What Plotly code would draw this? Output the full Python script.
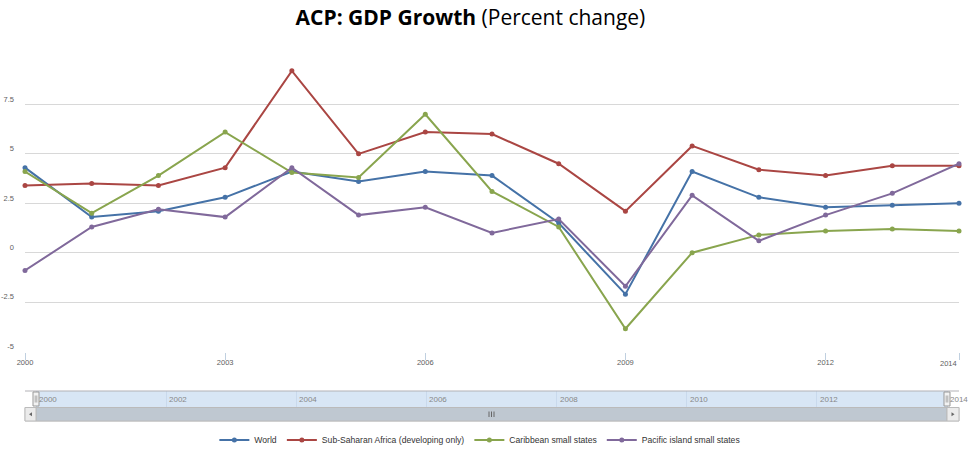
import plotly.graph_objects as go

# ---------------- data ----------------
years = list(range(2000, 2015))
world = [4.3, 1.8, 2.1, 2.8, 4.1, 3.6, 4.1, 3.9, 1.5, -2.1, 4.1, 2.8, 2.3, 2.4, 2.5]
ssa = [3.4, 3.5, 3.4, 4.3, 9.2, 5.0, 6.1, 6.0, 4.5, 2.1, 5.4, 4.2, 3.9, 4.4, 4.4]
caribbean = [4.1, 2.0, 3.9, 6.1, 4.05, 3.8, 7.0, 3.1, 1.3, -3.85, 0.0, 0.9, 1.1, 1.2, 1.1]
pacific = [-0.9, 1.3, 2.2, 1.8, 4.3, 1.9, 2.3, 1.0, 1.7, -1.7, 2.9, 0.6, 1.9, 3.0, 4.5]

series_names = ["World", "Sub-Saharan Africa (developing only)",
                "Caribbean small states", "Pacific island small states"]
series_values = [world, ssa, caribbean, pacific]
series_colors = ["#4572A7", "#AA4643", "#89A54E", "#80699B"]

x_tick_vals = [2000, 2003, 2006, 2009, 2012, 2014]
x_tick_text = ["2000", "2003", "2006", "2009", "2012", ""]
last_x_label = "2014"
y_tick_vals = [-5, -2.5, 0, 2.5, 5, 7.5, 10]
y_tick_text = ["-5", "-2.5", "0", "2.5", "5", "7.5", ""]
nav_years = [2000, 2002, 2004, 2006, 2008, 2010, 2012, 2014]

# ---------------- layout geometry ----------------
W, H = 970, 450
ML, MR, MT, MB = 25, 11, 55, 28
PW, PH = W - ML - MR, H - MT - MB


def px_x(p):
    return (p - ML) / PW


def px_y(p):
    return (H - MB - p) / PH


fig = go.Figure()
for name, vals, col in zip(series_names, series_values, series_colors):
    fig.add_trace(go.Scatter(
        x=years, y=vals, name=name, mode="lines+markers",
        line=dict(color=col, width=2),
        marker=dict(color=col, size=5, symbol="circle"),
        xaxis="x", yaxis="y", cliponaxis=False,
    ))

axis_font = dict(family="Liberation Sans, Arial, sans-serif", size=7.5, color="#606060")

nav_lo = 2000 - 11 / (911 / 14)
nav_hi = 2014 + 12 / (911 / 14)

shapes = []
# navigator band
shapes.append(dict(type="rect", xref="x2", yref="paper", x0=2000, x1=2014,
                   y0=px_y(407), y1=px_y(391), fillcolor="#d8e6f5",
                   line=dict(width=0), layer="below"))
# navigator outline top
shapes.append(dict(type="line", xref="paper", yref="paper", x0=px_x(25), x1=px_x(959),
                   y0=px_y(391), y1=px_y(391), line=dict(color="#b2b1b6", width=1)))
# scrollbar track
shapes.append(dict(type="rect", xref="paper", yref="paper", x0=px_x(25), x1=px_x(959),
                   y0=px_y(421), y1=px_y(407.5), fillcolor="#eeeeee",
                   line=dict(color="#cccccc", width=1)))
# scrollbar bar
shapes.append(dict(type="rect", xref="paper", yref="paper", x0=px_x(36), x1=px_x(947),
                   y0=px_y(421), y1=px_y(407.5), fillcolor="#bfc8d1",
                   line=dict(color="#bbbbbb", width=1)))
# buttons
for bx0, bx1 in [(25, 36), (947, 959)]:
    shapes.append(dict(type="rect", xref="paper", yref="paper", x0=px_x(bx0), x1=px_x(bx1),
                       y0=px_y(421), y1=px_y(407.5), fillcolor="#ebebeb",
                       line=dict(color="#bbbbbb", width=1)))
# arrows
lx, rx, cy = 30.5, 953, 414.2
shapes.append(dict(type="path", xref="paper", yref="paper",
                   path=f"M {px_x(lx+1.5)},{px_y(cy-2)} L {px_x(lx-1.5)},{px_y(cy)} L {px_x(lx+1.5)},{px_y(cy+2)} Z",
                   fillcolor="#666666", line=dict(width=0)))
shapes.append(dict(type="path", xref="paper", yref="paper",
                   path=f"M {px_x(rx-1.5)},{px_y(cy-2)} L {px_x(rx+1.5)},{px_y(cy)} L {px_x(rx-1.5)},{px_y(cy+2)} Z",
                   fillcolor="#666666", line=dict(width=0)))
# grip
for gx in [489, 491.5, 494]:
    shapes.append(dict(type="line", xref="paper", yref="paper", x0=px_x(gx), x1=px_x(gx),
                       y0=px_y(411.5), y1=px_y(417), line=dict(color="#666666", width=1)))
# handles
for hx in [36, 947]:
    shapes.append(dict(type="rect", xref="paper", yref="paper", x0=px_x(hx - 3), x1=px_x(hx + 3),
                       y0=px_y(406), y1=px_y(392), fillcolor="#f2f2f2",
                       line=dict(color="#999999", width=1)))
    for gx in [hx - 0.8, hx + 0.8]:
        shapes.append(dict(type="line", xref="paper", yref="paper", x0=px_x(gx), x1=px_x(gx),
                           y0=px_y(402.5), y1=px_y(395.5), line=dict(color="#999999", width=0.8)))

annotations = []
for yr in nav_years:
    annotations.append(dict(x=yr, xref="x2", y=px_y(399), yref="paper", text=str(yr),
                            showarrow=False, xanchor="left", yanchor="middle", xshift=1,
                            font=dict(family="Liberation Sans, Arial, sans-serif", size=8,
                                      color="#888888")))
annotations.append(dict(x=2014, xref="x", y=px_y(363.5), yref="paper", text=last_x_label,
                        showarrow=False, xanchor="right", yanchor="middle", xshift=0,
                        font=axis_font))

fig.update_layout(
    width=W, height=H,
    margin=dict(l=ML, r=MR, t=MT, b=MB, autoexpand=False),
    paper_bgcolor="white", plot_bgcolor="rgba(0,0,0,0)",
    title=dict(text="<b>ACP: GDP Growth</b> (Percent change)", x=0.485, xanchor="center",
               y=1 - 18 / H, yanchor="middle",
               font=dict(family="Open Sans, sans-serif", size=21, color="#000000")),
    xaxis=dict(domain=[0, 1], range=[2000, 2014], tickvals=x_tick_vals, ticktext=x_tick_text,
               showgrid=False, zeroline=False, showline=False, automargin=False,
               ticks="outside", ticklen=7, tickcolor="#C0D0E0", tickwidth=1,
               ticklabelstandoff=-4,
               tickfont=axis_font, anchor="y"),
    yaxis=dict(domain=[px_y(351.5), 1], range=[-5, 10], tickvals=y_tick_vals, ticktext=y_tick_text,
               showgrid=True, gridcolor="#D8D8D8", gridwidth=1, zeroline=False, showline=False,
               ticklabelposition="outside top", ticks="", ticklabelstandoff=10, automargin=False,
               tickfont=axis_font, anchor="x"),
    xaxis2=dict(domain=[0, 1], range=[nav_lo, nav_hi], anchor="y2", tickvals=nav_years,
                showticklabels=False, showgrid=True, gridcolor="#c9d9ec", zeroline=False,
                showline=False, ticks="", automargin=False),
    yaxis2=dict(domain=[px_y(407), px_y(391)], range=[0, 1], anchor="x2", visible=False,
                showgrid=False, zeroline=False, automargin=False),
    legend=dict(orientation="h", x=0.487, xanchor="center", y=px_y(440), yanchor="middle",
                font=dict(family="Liberation Sans, Arial, sans-serif", size=8.6, color="#333333"),
                itemwidth=30, bgcolor="rgba(0,0,0,0)"),
    shapes=shapes,
    annotations=annotations,
    showlegend=True,
)

fig.write_html("out.html", config={"displayModeBar": False},
               post_script="document.body.style.margin='0';document.body.style.overflow='hidden';")
